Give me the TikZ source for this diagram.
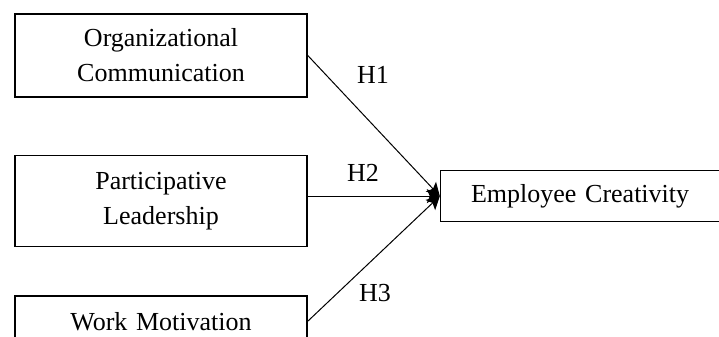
\documentclass[tikz,border=0pt]{standalone}
\usepackage{fontspec}
\setmainfont{Liberation Serif}
\usepackage{tikz}
\usetikzlibrary{shapes,arrows.meta,positioning}
\tikzstyle{block} = [rectangle, draw, line width=0.8pt, text width=146pt,
    text centered, inner xsep=0pt, inner ysep=0pt, font=\fontsize{13}{17.5}\selectfont]
\tikzstyle{link} = [line width=0.5pt, -{Stealth[length=6.5pt, width=7pt, inset=1.5pt]}]
\tikzstyle{hyp} = [font=\fontsize{13}{14}\selectfont]

\begin{document}
\begin{tikzpicture}[x=0.5pt, y=-0.5pt, auto]
    \useasboundingbox (0,0) rectangle (719,337);

    % Place nodes
	\node [block, minimum height=41.5pt] (OrgComm) at (161,55.5) {Organizational\\Communication};
	\node [block, minimum height=45.5pt, below=28.5pt of OrgComm] (PartLead) {Participative\\Leadership};
	\node [block, minimum height=25pt, below=24pt of PartLead] (WorkMot) {Work Motivation};
	\node [block, text width=139.5pt, minimum height=25.5pt, right=66pt of PartLead, yshift=2.5pt] (EmpCreat) {Employee Creativity};

	\draw [link] (OrgComm.east) -- (EmpCreat.west);
	\draw [link] (PartLead.east |- EmpCreat.west) -- (EmpCreat.west);
	\draw [link] (WorkMot.east) -- (EmpCreat.west);

	\node [hyp] (H1) at (373,75) {H1};
	\node [hyp] (H2) at (363,173) {H2};
	\node [hyp] (H3) at (375,293) {H3};

\end{tikzpicture}
\end{document}
